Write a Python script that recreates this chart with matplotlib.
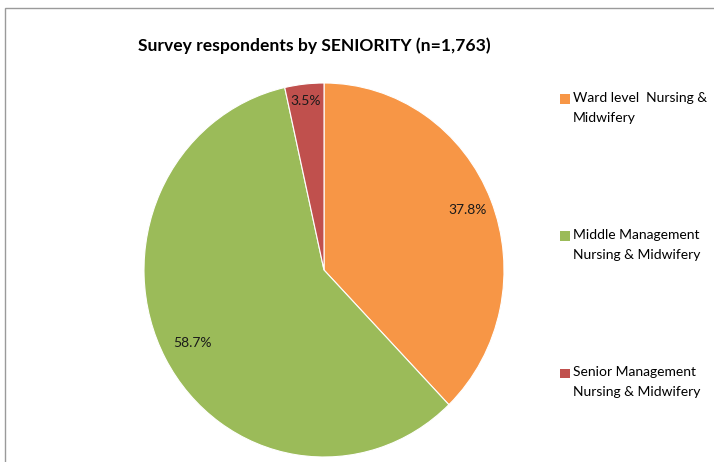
import matplotlib.pyplot as plt
from matplotlib.patches import Patch, Rectangle
from matplotlib.legend_handler import HandlerPatch
import numpy as np

plt.rcParams["font.family"] = ["Lato", "DejaVu Sans"]

# Data
categories = ["Ward level  Nursing &\nMidwifery",
              "Middle Management\nNursing & Midwifery",
              "Senior Management\nNursing & Midwifery"]
shares = [37.8, 58.7, 3.5]
colors = ["#F79646", "#9BBB59", "#C0504D"]
label_radius = [0.86, 0.83, 0.91]


def top_square(legend, orig_handle, xdescent, ydescent, width, height, fontsize):
    # legend key sits beside the first line of a two-line label
    return Rectangle((-xdescent, -ydescent + 0.62 * fontsize), width, height)


fig = plt.figure(figsize=(7.14, 4.62), dpi=100)

# light grey chart frame (right/bottom edges run off the image)
fig.patches.append(Rectangle((5 / 714, -0.05), 1.0, 0.983 + 0.05,
                             transform=fig.transFigure, fill=False,
                             edgecolor="#9a9a9a", linewidth=1.0))

ax = fig.add_axes([144 / 714, 5 / 462, 360 / 714, 374 / 462])
wedges, _ = ax.pie(shares, colors=colors, startangle=90, counterclock=False,
                   wedgeprops=dict(edgecolor="white", linewidth=0.8))
ax.set_aspect("auto")
ax.set_xlim(-1, 1)
ax.set_ylim(-1, 1)

for w, val, r in zip(wedges, shares, label_radius):
    mid = np.deg2rad((w.theta1 + w.theta2) / 2)
    ax.text(r * np.cos(mid), r * np.sin(mid), f"{val}%",
            ha="center", va="center", fontsize=10, color="#1a1a1a")

fig.text(314 / 714, 1 - 46 / 462, "Survey respondents by SENIORITY (n=1,763)",
         ha="center", va="center", fontsize=12.6, fontweight="bold")

handles = [Patch(facecolor=c, edgecolor="none") for c in colors]
leg = fig.legend(handles, categories, loc="upper left",
                 bbox_to_anchor=(560 / 714, 1 - 92 / 462), frameon=False,
                 fontsize=10, handlelength=0.7, handleheight=0.7,
                 handletextpad=0.25, labelspacing=7.6, borderpad=0,
                 borderaxespad=0,
                 handler_map={Patch: HandlerPatch(patch_func=top_square)})
for t in leg.get_texts():
    t.set_linespacing(1.75)

fig.savefig("out.png", dpi=100)
